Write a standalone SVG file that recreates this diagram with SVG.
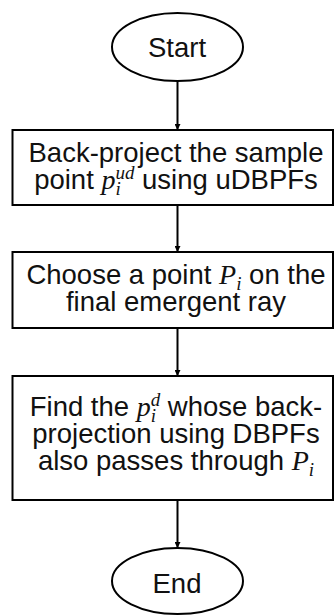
<svg xmlns="http://www.w3.org/2000/svg" width="335" height="615" viewBox="0 0 335 615">
<style>
.shape{fill:#fff;stroke:#000;stroke-width:2}
.t{font-family:"Liberation Sans",Arial,sans-serif;font-size:27.5px;fill:#111;text-anchor:middle}
.m{font-family:"Liberation Serif","DejaVu Serif",serif;font-style:italic;font-size:28px}
.s{font-family:"Liberation Serif","DejaVu Serif",serif;font-style:italic;font-size:19px}
.c{stroke:#000;stroke-width:2;fill:none}
</style>
<defs>
<marker id="ah" viewBox="0 0 10 10" refX="10" refY="5" markerWidth="6" markerHeight="6" markerUnits="userSpaceOnUse" orient="auto">
<path d="M0,0 L10,5 L0,10 z" fill="#000"/>
</marker>
</defs>
<rect width="335" height="615" fill="#fff"/>
<g id="connectors">
<line class="c" x1="177.5" y1="81" x2="177.5" y2="130" marker-end="url(#ah)"/>
<line class="c" x1="177.5" y1="205" x2="177.5" y2="252" marker-end="url(#ah)"/>
<line class="c" x1="177.5" y1="328" x2="177.5" y2="376" marker-end="url(#ah)"/>
<line class="c" x1="177.5" y1="500" x2="177.5" y2="548" marker-end="url(#ah)"/>
</g>
<g id="start">
<ellipse class="shape" cx="177.5" cy="47" rx="65.5" ry="34"/>
<text class="t" x="177" y="57">Start</text>
</g>
<g id="step1">
<rect class="shape" x="12.5" y="130" width="320.5" height="75"/>
<text class="t" x="176" y="162">Back-project the sample</text>
<text class="t" x="176" y="189">point <tspan class="m">p</tspan><tspan class="s" dy="6">i</tspan><tspan class="s" dx="-5.3" dy="-16">ud</tspan><tspan dy="10"> using uDBPFs</tspan></text>
</g>
<g id="step2">
<rect class="shape" x="12.5" y="252" width="320.5" height="76"/>
<text class="t" x="176" y="284">Choose a point <tspan class="m">P</tspan><tspan class="s" dy="6">i</tspan><tspan dy="-6"> on the</tspan></text>
<text class="t" x="176" y="311">final emergent ray</text>
</g>
<g id="step3">
<rect class="shape" x="12.5" y="376" width="320.5" height="124"/>
<text class="t" x="176" y="416">Find the <tspan class="m">p</tspan><tspan class="s" dy="6">i</tspan><tspan class="s" dx="-5.3" dy="-16">d</tspan><tspan dy="10"> whose back-</tspan></text>
<text class="t" x="176" y="443">projection using DBPFs</text>
<text class="t" x="176" y="470">also passes through <tspan class="m">P</tspan><tspan class="s" dy="6">i</tspan></text>
</g>
<g id="end">
<ellipse class="shape" cx="177.5" cy="581" rx="65.5" ry="33"/>
<text class="t" x="177" y="593">End</text>
</g>
</svg>
